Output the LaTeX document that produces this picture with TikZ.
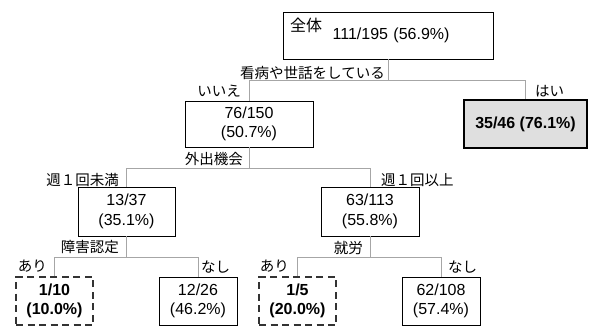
\documentclass[tikz,border=0pt]{standalone}
\usepackage{fontspec}
\usepackage{xcolor}
\setmainfont{Liberation Sans}
\newfontfamily\jp{Noto Sans CJK JP}

\begin{document}
\begin{tikzpicture}[x=1pt,y=-1pt,
	box/.style={draw, line width=0.8pt, align=center, inner sep=0pt, font=\fontsize{16}{19.5}\selectfont},
	leaf/.style={box, draw=black!80, line width=1.8pt, dash pattern=on 7pt off 4.5pt, font=\fontsize{16}{19.5}\selectfont\bfseries},
	link/.style={draw=gray!70, line width=1pt},
	lab/.style={inner sep=0pt, font=\jp\fontsize{14.5}{16}\selectfont}]
	\useasboundingbox (0,0) rectangle (592,327);
	
	% boxes
	\node[box, minimum width=210pt, minimum height=47pt, text width=196pt, align=left] (root) at (388,35.5) {\raisebox{8.5pt}[0pt][0pt]{\jp 全体}\ \ 111/195 (56.9\%)};
	\node[box, minimum width=128pt, minimum height=46pt] (n1) at (249,124) {76/150\\(50.7\%)};
	\node[box, fill=gray!25, line width=1.8pt, minimum width=123pt, minimum height=48pt, font=\fontsize{16}{19.5}\selectfont\bfseries] (n2) at (525.5,124) {35/46 (76.1\%)};
	\node[box, minimum width=97pt, minimum height=49pt] (n11) at (126.5,211.5) {13/37\\(35.1\%)};
	\node[box, minimum width=98pt, minimum height=49pt] (n12) at (370,211.5) {63/113\\(55.8\%)};
	\node[leaf, minimum width=77pt, minimum height=48pt] (n111) at (54.5,301) {1/10\\(10.0\%)};
	\node[box, minimum width=78pt, minimum height=48pt] (n112) at (198,301) {12/26\\(46.2\%)};
	\node[leaf, minimum width=77pt, minimum height=48pt] (n121) at (297.5,301) {1/5\\(20.0\%)};
	\node[box, minimum width=78pt, minimum height=48pt] (n122) at (441,301) {62/108\\(57.4\%)};
	
	% connectors
	\foreach \p/\a/\b in {root/n1/n2, n1/n11/n12, n11/n111/n112, n12/n121/n122}{
		\draw[link] (\p.south) -- ++(0,21.5) coordinate (s\p);
		\draw[link] (\a.north) |- (s\p) -| (\b.north);
	}
	
	% labels
	\node[lab, anchor=base east] (q0) at (385,78) {看病や世話をしている};
	\node[lab, anchor=base east] (a0) at (241,96) {いいえ};
	\node[lab, anchor=base west] (b0) at (535,96) {はい};
	\node[lab, anchor=base east] (q1) at (243,164.5) {外出機会};
	\node[lab, anchor=base east] (a1) at (119,185.5) {週１回未満};
	\node[lab, anchor=base west] (b1) at (381,185) {週１回以上};
	\node[lab, anchor=base east] (q11) at (119,252) {障害認定};
	\node[lab, anchor=base east] (a11) at (47,271) {あり};
	\node[lab, anchor=base west] (b11) at (201,272) {なし};
	\node[lab, anchor=base east] (q12) at (363,253) {就労};
	\node[lab, anchor=base east] (a12) at (289,271) {あり};
	\node[lab, anchor=base west] (b12) at (448,272) {なし};
\end{tikzpicture}
\end{document}
